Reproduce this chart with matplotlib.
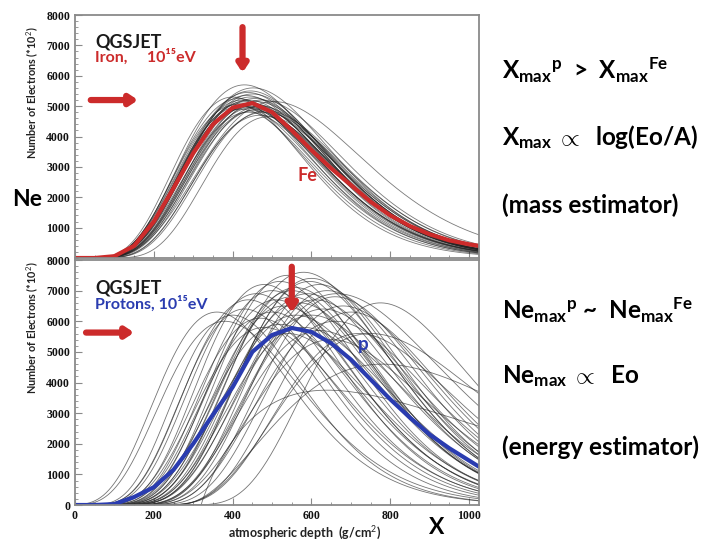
import numpy as np
import matplotlib
matplotlib.use("Agg")
import matplotlib.pyplot as plt
from matplotlib.ticker import MultipleLocator
from matplotlib.font_manager import FontProperties

# ---------------- data ----------------
depth_mean = [0, 50, 100, 150, 200, 250, 300, 350, 400, 450, 500, 550, 600,
              650, 700, 750, 800, 850, 900, 950, 1000, 1025]
fe_mean = [0, 0, 60, 400, 1200, 2300, 3450, 4400, 4950, 5100, 4800, 4200, 3550,
           2950, 2400, 1850, 1400, 1050, 780, 580, 450, 400]
p_mean = [0, 0, 30, 260, 580, 1150, 2000, 2950, 3850, 5000, 5550, 5780, 5650,
          5280, 4750, 4100, 3450, 2850, 2300, 1850, 1450, 1250]

# individual showers, Gaisser-Hillas parameters:
# (Xmax [g/cm2], Nmax [*100], lambda, X0)
fe_xmax = [430, 440, 450, 420, 460, 445, 435, 455, 425, 470, 415, 440, 450, 430,
           465, 420, 445, 455, 435, 410, 480, 440, 450, 425, 460, 430, 470, 505,
           400, 445, 475, 485, 490, 438, 452]
fe_nmax = [5000, 5200, 5050, 4900, 5150, 5300, 4950, 4850, 5100, 5000, 5250, 4800,
           5400, 5150, 4900, 5000, 5100, 5250, 5350, 5050, 4800, 5000, 4950, 5200,
           5050, 5700, 4700, 5150, 5300, 5500, 5200, 4850, 4650, 5450, 5600]
fe_lam = [70, 72, 70, 68, 72, 70, 71, 73, 69, 72, 68, 70, 71, 70, 74, 70, 73, 70,
          69, 67, 75, 75, 68, 72, 70, 72, 70, 85, 65, 70, 76, 72, 66, 71, 73]
fe_x0 = [0, 0, 0, 0, 0, 0, 0, 10, 0, 10, 0, 0, 0, 0, 10, 0, 0, 0, 0, 0, 20, 0, 0,
         0, 0, 0, 20, 0, 0, 0, 10, 20, 50, 0, 0]

p_xmax = [440, 460, 480, 500, 520, 540, 580, 560, 600, 620, 550, 530, 570, 590,
          610, 640, 660, 500, 470, 520, 560, 600, 630, 680, 540, 580, 620, 660,
          700, 400, 430, 510, 550, 595, 480, 650, 720, 775, 780, 640, 750, 665,
          360, 380]
p_nmax = [6700, 6900, 7200, 7000, 7300, 7500, 7600, 7100, 7400, 7200, 6800, 6500,
          6600, 6900, 6700, 7000, 6800, 6300, 6100, 5900, 6200, 6200, 6400, 6500,
          5600, 5800, 5700, 6000, 6300, 6200, 6400, 6700, 7000, 7300, 5800, 5400,
          5600, 6600, 4600, 3750, 5600, 6900, 6300, 6000]
p_lam = [70, 72, 70, 72, 70, 72, 75, 70, 74, 72, 73, 70, 72, 75, 78, 76, 78, 70,
         68, 72, 74, 78, 80, 80, 75, 80, 82, 85, 80, 66, 68, 70, 72, 73, 72, 88,
         90, 85, 200, 350, 120, 110, 70, 75]
p_x0 = [0, 0, 10, 20, 20, 30, 40, 40, 60, 80, 30, 20, 50, 50, 60, 90, 110, 10, 0,
        20, 40, 60, 80, 130, 40, 60, 80, 120, 160, 0, 0, 20, 30, 60, 10, 100, 170,
        250, 250, 320, 200, 120, -50, -40]

y_ticks_top = [1000, 2000, 3000, 4000, 5000, 6000, 7000, 8000]
y_ticks_bot = [0, 1000, 2000, 3000, 4000, 5000, 6000, 7000, 8000]
x_ticks = [0, 200, 400, 600, 800, 1000]


def gaisser_hillas(x, xmax, nmax, lam, x0):
    t = np.clip((x - x0) / (xmax - x0), 1e-9, None)
    n = nmax * t ** ((xmax - x0) / lam) * np.exp((xmax - x) / lam)
    return np.where(x > x0, n, 0.0)


# ---------------- figure ----------------
plt.rcParams["mathtext.fontset"] = "custom"
plt.rcParams["mathtext.rm"] = "Lato"
plt.rcParams["mathtext.it"] = "Lato:italic"
plt.rcParams["mathtext.bf"] = "Lato:bold"

W, H = 722, 542
fig = plt.figure(figsize=(W / 100, H / 100), dpi=100)

def ax_rect(l, t, r, b):
    return [l / W, 1 - b / H, (r - l) / W, (b - t) / H]

ax1 = fig.add_axes(ax_rect(75, 15, 479, 258))
ax2 = fig.add_axes(ax_rect(75, 260, 479, 505))

xg = np.linspace(0, 1030, 600)
RED = "#cc2b2b"
BLUE = "#2a3cb0"
SPINE = "#8a8a8a"
tickfont = dict(family="Liberation Serif", weight="bold", size=8.5)

for xm, nm, la, x0 in zip(fe_xmax, fe_nmax, fe_lam, fe_x0):
    ax1.plot(xg, gaisser_hillas(xg, xm, nm, la, x0), color="#222222", lw=0.6, alpha=0.6)
ax1.plot(depth_mean, fe_mean, color=RED, lw=3, solid_capstyle="round")

for xm, nm, la, x0 in zip(p_xmax, p_nmax, p_lam, p_x0):
    ax2.plot(xg, gaisser_hillas(xg, xm, nm, la, x0), color="#2a2a2a", lw=0.6, alpha=0.65)
ax2.plot(depth_mean, p_mean, color=BLUE, lw=3, solid_capstyle="round")

for ax, yt in ((ax1, y_ticks_top), (ax2, y_ticks_bot)):
    ax.set_xlim(0, 1025)
    ax.set_ylim(0, 8000)
    ax.set_yticks(yt)
    ax.set_xticks(x_ticks)
    ax.xaxis.set_minor_locator(MultipleLocator(50))
    ax.yaxis.set_minor_locator(MultipleLocator(200))
    ax.tick_params(which="both", direction="in", colors=SPINE, labelcolor="#111111",
                   top=False, right=False)
    ax.tick_params(which="major", length=5, width=0.8)
    ax.tick_params(which="minor", length=2.5, width=0.6)
    for lab in ax.get_yticklabels() + ax.get_xticklabels():
        lab.set_fontproperties(FontProperties(**tickfont))
    for s in ax.spines.values():
        s.set_color(SPINE)
        s.set_linewidth(1.3)
ax1.set_xticklabels([])

# annotations inside panels
fam = ["Lato", "DejaVu Sans"]
ax1.text(0.05, 0.89, "QGSJET", transform=ax1.transAxes, fontsize=13,
         fontweight="bold", family=fam, color="#1a1a1a", va="center")
ax1.text(0.05, 0.827, "Iron,     10¹⁵eV", transform=ax1.transAxes, fontsize=11.5,
         fontweight="bold", family=fam, color=RED, va="center")
ax2.text(0.05, 0.885, "QGSJET", transform=ax2.transAxes, fontsize=13,
         fontweight="bold", family=fam, color="#1a1a1a", va="center")
ax2.text(0.05, 0.822, "Protons, 10¹⁵eV", transform=ax2.transAxes, fontsize=11.5,
         fontweight="bold", family=fam, color=BLUE, va="center")
ax1.text(590, 2730, "Fe", fontsize=13, fontweight="bold", family="Lato", color=RED,
         ha="center", va="center")
ax2.text(730, 5230, "p", fontsize=13.5, fontweight="bold", family="Lato", color=BLUE,
         ha="center", va="center")

# arrows marking Xmax and Nmax of the mean profiles
arrow = dict(arrowstyle="-|>,head_length=0.45,head_width=0.3", color=RED, lw=4.5,
             shrinkA=0, shrinkB=0)
i_fe = int(np.argmax(fe_mean)); i_p = int(np.argmax(p_mean))
ax1.annotate("", xy=(depth_mean[i_fe] - 25, fe_mean[i_fe] + 1000),
             xytext=(depth_mean[i_fe] - 25, fe_mean[i_fe] + 2500), arrowprops=arrow)
ax1.annotate("", xy=(160, fe_mean[i_fe] + 100), xytext=(40, fe_mean[i_fe] + 100),
             arrowprops=arrow)
ax2.annotate("", xy=(depth_mean[i_p], p_mean[i_p] + 500),
             xytext=(depth_mean[i_p], p_mean[i_p] + 2000), arrowprops=arrow)
ax2.annotate("", xy=(150, p_mean[i_p] - 150), xytext=(28, p_mean[i_p] - 150),
             arrowprops=arrow)

# axis labels
ylab = "Number of Electrons (*10$^{2}$)"
fig.text(33 / W, 1 - 93 / H, ylab, rotation=90, ha="center", va="center",
         fontsize=7.8, fontweight="bold", family="Lato", color="#222222")
fig.text(33 / W, 1 - 328 / H, ylab, rotation=90, ha="center", va="center",
         fontsize=7.8, fontweight="bold", family="Lato", color="#222222")
fig.text(305 / W, 1 - 533 / H, "atmospheric depth  (g/cm$^{2}$)", ha="center",
         va="center", fontsize=9, fontweight="bold", family="Lato", color="#222222")

big = dict(fontsize=16.5, family=fam, fontweight="bold", color="black", va="center")
fig.text(12 / W, 1 - 199 / H, "Ne", ha="left", **big)
fig.text(437 / W, 1 - 528 / H, "X", ha="center", **big)

side = dict(big, fontsize=17.5)
rx = 502 / W
lines = [
    (70, r"$\mathbf{X_{max}{}^{p}}$  >  $\mathbf{X_{max}{}^{Fe}}$"),
    (137, r"$\mathbf{X_{max}}$ $\propto$  log(Eo/A)"),
    (205, "(mass estimator)"),
    (310, r"$\mathbf{Ne_{max}{}^{p}}$ ~  $\mathbf{Ne_{max}{}^{Fe}}$"),
    (376, r"$\mathbf{Ne_{max}}$ $\propto$  Eo"),
    (447, "(energy estimator)"),
]
for y, s in lines:
    fig.text(rx, 1 - y / H, s, ha="left", **side)

fig.savefig("out.png", dpi=100)
